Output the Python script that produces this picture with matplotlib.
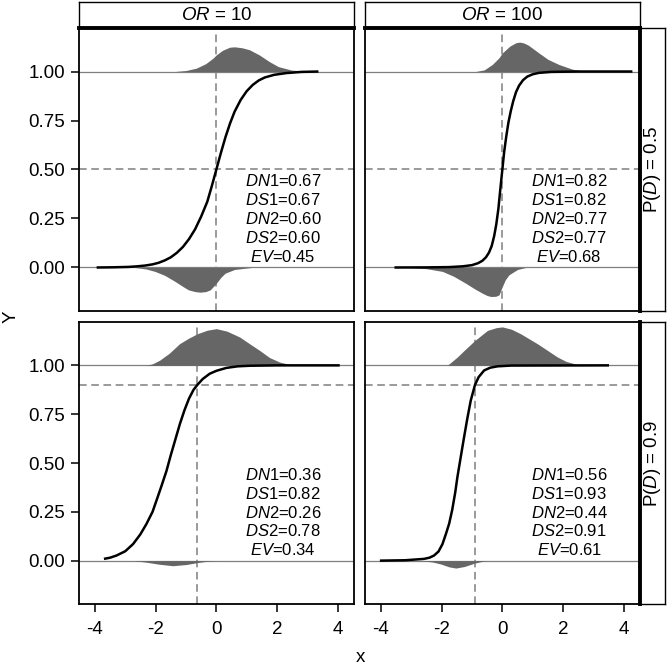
import matplotlib
matplotlib.use("Agg")
import matplotlib.pyplot as plt

plt.rcParams['font.family'] = ['Liberation Sans', 'DejaVu Sans']
plt.rcParams['mathtext.fontset'] = 'custom'
plt.rcParams['mathtext.rm'] = 'Liberation Sans'
plt.rcParams['mathtext.it'] = 'Liberation Sans:italic'
plt.rcParams['axes.unicode_minus'] = False

# ---------------- data ----------------
col_labels = [r"$\mathit{OR}$ = 10", r"$\mathit{OR}$ = 100"]
row_labels = [r"P($\mathit{D}$) = 0.5", r"P($\mathit{D}$) = 0.9"]
prevalence = [0.5, 0.9]

# risk curves
curve_x_tl = [-3.94, -3.4, -2.89, -2.6, -2.34, -2.1, -1.9, -1.7, -1.5, -1.3, -1.1, -0.9, -0.7,
              -0.5, -0.3, -0.15, 0.0, 0.15, 0.3, 0.45, 0.6, 0.8, 1.0, 1.2, 1.4, 1.6, 1.9, 2.3,
              2.8, 3.36]
curve_y_tl = [0.0, 0.001, 0.003, 0.006, 0.010, 0.016, 0.024, 0.036, 0.052, 0.075, 0.105, 0.145,
              0.195, 0.26, 0.335, 0.415, 0.50, 0.585, 0.665, 0.735, 0.795, 0.855, 0.90, 0.932,
              0.955, 0.97, 0.983, 0.992, 0.998, 1.0]
curve_x_tr = [-3.55, -2.5, -1.76, -1.3, -1.0, -0.8, -0.66, -0.54, -0.44, -0.35, -0.27, -0.2,
              -0.13, -0.06, 0.0, 0.06, 0.13, 0.2, 0.28, 0.36, 0.45, 0.55, 0.68, 0.82, 1.0, 1.2,
              1.6, 2.5, 4.28]
curve_y_tr = [0.0, 0.0005, 0.002, 0.006, 0.012, 0.022, 0.034, 0.052, 0.076, 0.11, 0.16, 0.22,
              0.30, 0.41, 0.50, 0.59, 0.67, 0.74, 0.80, 0.85, 0.895, 0.928, 0.956, 0.974, 0.986,
              0.993, 0.998, 1.0, 1.0]
curve_x_bl = [-3.70, -3.5, -3.29, -3.0, -2.74, -2.5, -2.30, -2.1, -1.97, -1.8, -1.64, -1.5,
              -1.35, -1.2, -1.05, -0.9, -0.75, -0.625, -0.45, -0.22, 0.0, 0.33, 0.7, 1.1, 2.0,
              4.06]
curve_y_bl = [0.009, 0.015, 0.026, 0.048, 0.085, 0.135, 0.188, 0.25, 0.308, 0.385, 0.46, 0.54,
              0.62, 0.70, 0.77, 0.83, 0.875, 0.90, 0.93, 0.957, 0.972, 0.987, 0.995, 0.998, 1.0,
              1.0]
curve_x_br = [-4.03, -3.2, -2.58, -2.4, -2.25, -2.1, -1.97, -1.85, -1.75, -1.65, -1.55, -1.48,
              -1.37, -1.26, -1.15, -1.04, -0.9, -0.78, -0.6, -0.4, -0.16, 0.3, 3.51]
curve_y_br = [0.0, 0.002, 0.009, 0.015, 0.026, 0.047, 0.085, 0.14, 0.19, 0.26, 0.35, 0.427,
              0.53, 0.632, 0.73, 0.82, 0.90, 0.94, 0.974, 0.988, 0.995, 0.999, 1.0]

# densities of cases (drawn above Y=1) and non-cases (drawn below Y=0)
up_x_tl = [-1.36, -1.0, -0.66, -0.35, -0.11, 0.0, 0.2, 0.44, 0.6, 0.85, 1.09, 1.41, 1.75, 2.04, 2.48, 3.14]
up_h_tl = [0.0, 0.005, 0.017, 0.04, 0.068, 0.085, 0.108, 0.124, 0.126, 0.121, 0.111, 0.085, 0.05, 0.025, 0.007, 0.0]
lo_x_tl = [-2.67, -2.3, -2.02, -1.7, -1.36, -1.1, -0.92, -0.7, -0.53, -0.35, -0.2, 0.0, 0.15, 0.29, 0.6, 1.16]
lo_h_tl = [0.0, 0.008, 0.02, 0.04, 0.071, 0.097, 0.114, 0.123, 0.126, 0.123, 0.114, 0.08, 0.05, 0.029, 0.01, 0.0]

up_x_tr = [-0.88, -0.6, -0.33, -0.11, 0.0, 0.25, 0.45, 0.57, 0.7, 0.85, 1.2, 1.5, 1.86, 2.3, 2.74]
up_h_tr = [0.0, 0.008, 0.036, 0.07, 0.095, 0.13, 0.147, 0.15, 0.146, 0.135, 0.095, 0.062, 0.036, 0.012, 0.0]
lo_x_tr = [-3.07, -2.5, -1.97, -1.6, -1.21, -0.9, -0.66, -0.5, -0.38, -0.22, -0.11, 0.0, 0.1, 0.22, 0.5, 0.77]
lo_h_tr = [0.0, 0.006, 0.02, 0.045, 0.08, 0.11, 0.131, 0.143, 0.148, 0.147, 0.14, 0.097, 0.062, 0.037, 0.01, 0.0]

up_x_bl = [-2.3, -2.1, -1.87, -1.55, -1.21, -0.9, -0.625, -0.3, 0.0, 0.35, 0.77, 1.1, 1.42, 1.75, 2.08, 2.4, 2.74]
up_h_bl = [0.0, 0.008, 0.026, 0.062, 0.111, 0.14, 0.162, 0.18, 0.188, 0.175, 0.145, 0.11, 0.077, 0.04, 0.017, 0.005, 0.0]
lo_x_bl = [-2.74, -2.3, -1.9, -1.43, -1.0, -0.625, -0.3, 0.0]
lo_h_bl = [0.0, 0.008, 0.018, 0.026, 0.02, 0.01, 0.003, 0.0]

up_x_br = [-1.81, -1.48, -1.2, -0.9, -0.49, -0.2, 0.0, 0.3, 0.6, 1.15, 1.5, 1.81, 2.1, 2.36, 2.53]
up_h_br = [0.0, 0.043, 0.085, 0.128, 0.179, 0.193, 0.197, 0.185, 0.162, 0.111, 0.075, 0.043, 0.02, 0.009, 0.0]
lo_x_br = [-2.69, -2.3, -2.03, -1.75, -1.53, -1.25, -0.9, -0.55]
lo_h_br = [0.0, 0.007, 0.017, 0.032, 0.038, 0.03, 0.012, 0.0]

# threshold x (where the curve crosses P(D))
threshold_x = [[0.0, 0.0], [-0.625, -0.90]]

stat_names = [r"$\mathit{DN}$1", r"$\mathit{DS}$1", r"$\mathit{DN}$2", r"$\mathit{DS}$2", r"$\mathit{EV}$"]
stats_tl = ["0.67", "0.67", "0.60", "0.60", "0.45"]
stats_tr = ["0.82", "0.82", "0.77", "0.77", "0.68"]
stats_bl = ["0.36", "0.82", "0.26", "0.78", "0.34"]
stats_br = ["0.56", "0.93", "0.44", "0.91", "0.61"]

x_ticks = [-4, -2, 0, 2, 4]
x_ticklabels = ["-4", "-2", "0", "2", "4"]
y_ticks = [0.0, 0.25, 0.5, 0.75, 1.0]
y_ticklabels = ["0.00", "0.25", "0.50", "0.75", "1.00"]

panels = {
    (0, 0): (curve_x_tl, curve_y_tl, up_x_tl, up_h_tl, lo_x_tl, lo_h_tl, stats_tl),
    (0, 1): (curve_x_tr, curve_y_tr, up_x_tr, up_h_tr, lo_x_tr, lo_h_tr, stats_tr),
    (1, 0): (curve_x_bl, curve_y_bl, up_x_bl, up_h_bl, lo_x_bl, lo_h_bl, stats_bl),
    (1, 1): (curve_x_br, curve_y_br, up_x_br, up_h_br, lo_x_br, lo_h_br, stats_br),
}

# ---------------- layout ----------------
W, H = 669, 668
fig = plt.figure(figsize=(W / 100, H / 100), dpi=100)


def rect(x0, y0, x1, y1):
    return [x0 / W, 1 - y1 / H, (x1 - x0) / W, (y1 - y0) / H]


col_px = [(79, 354), (365, 640)]
row_px = [(28, 311), (322, 604)]

FILL = '#666666'
GREY = '#7f7f7f'
TICK_FS = 13.5

for (r, c), (cx, cy, ux, uh, lx, lh, st) in panels.items():
    x0, x1 = col_px[c]
    y0, y1 = row_px[r]
    ax = fig.add_axes(rect(x0, y0, x1, y1))
    ax.set_xlim(-4.52, 4.53)
    ax.set_ylim(-0.222, 1.222)
    p = prevalence[r]
    tx = threshold_x[r][c]
    ax.axhline(p, color=GREY, lw=1.1, dashes=(5, 3), zorder=1)
    ax.axvline(tx, color=GREY, lw=1.1, dashes=(5, 3), zorder=1)
    ax.axhline(1.0, color=GREY, lw=0.9, zorder=2)
    ax.axhline(0.0, color=GREY, lw=0.9, zorder=2)
    ax.fill_between(ux, [1.0] * len(ux), [1.0 + h for h in uh], color=FILL, lw=0, zorder=3)
    ax.fill_between(lx, [0.0] * len(lx), [-h for h in lh], color=FILL, lw=0, zorder=3)
    ax.plot(cx, cy, color='black', lw=1.8, solid_capstyle='butt', solid_joinstyle='round', zorder=4)
    ys = [0.439, 0.3425, 0.246, 0.1495, 0.053]
    for name, val, yy in zip(stat_names, st, ys):
        ax.text(2.2, yy, name + "=" + val, ha='center', va='center', fontsize=12, zorder=5)
    for s in ax.spines.values():
        s.set_linewidth(1.3)
        s.set_color('black')
    ax.set_xticks(x_ticks)
    ax.set_yticks(y_ticks)
    ax.tick_params(length=6, width=1.1, color='black', labelsize=TICK_FS, pad=4)
    if r == 1:
        ax.set_xticklabels(x_ticklabels)
        ax.tick_params(axis='x', pad=6)
    else:
        ax.tick_params(axis='x', length=0, labelbottom=False)
    if c == 0:
        ax.set_yticklabels(y_ticklabels)
    else:
        ax.tick_params(axis='y', length=0, labelleft=False)

# column strips
for c, lab in enumerate(col_labels):
    x0, x1 = col_px[c]
    sax = fig.add_axes(rect(x0, 2, x1, 28))
    sax.set_xticks([])
    sax.set_yticks([])
    for s in sax.spines.values():
        s.set_linewidth(1.0)
    sax.spines['bottom'].set_linewidth(2.8)
    sax.text(0.5, 0.5, lab, ha='center', va='center', fontsize=13.5, transform=sax.transAxes)

# row strips
for r, lab in enumerate(row_labels):
    y0, y1 = row_px[r]
    sax = fig.add_axes(rect(640, y0, 665, y1))
    sax.set_xticks([])
    sax.set_yticks([])
    for s in sax.spines.values():
        s.set_linewidth(1.0)
    sax.spines['left'].set_linewidth(2.8)
    sax.text(0.5, 0.5, lab, ha='center', va='center', fontsize=13.5, rotation=90,
             transform=sax.transAxes)

fig.text(360 / W, 1 - 657 / H, "x", ha='center', va='center', fontsize=13.5)
fig.text(11 / W, 1 - 317 / H, "Y", ha='center', va='center', fontsize=13.5, rotation=90)

fig.savefig("out.png", dpi=100)
